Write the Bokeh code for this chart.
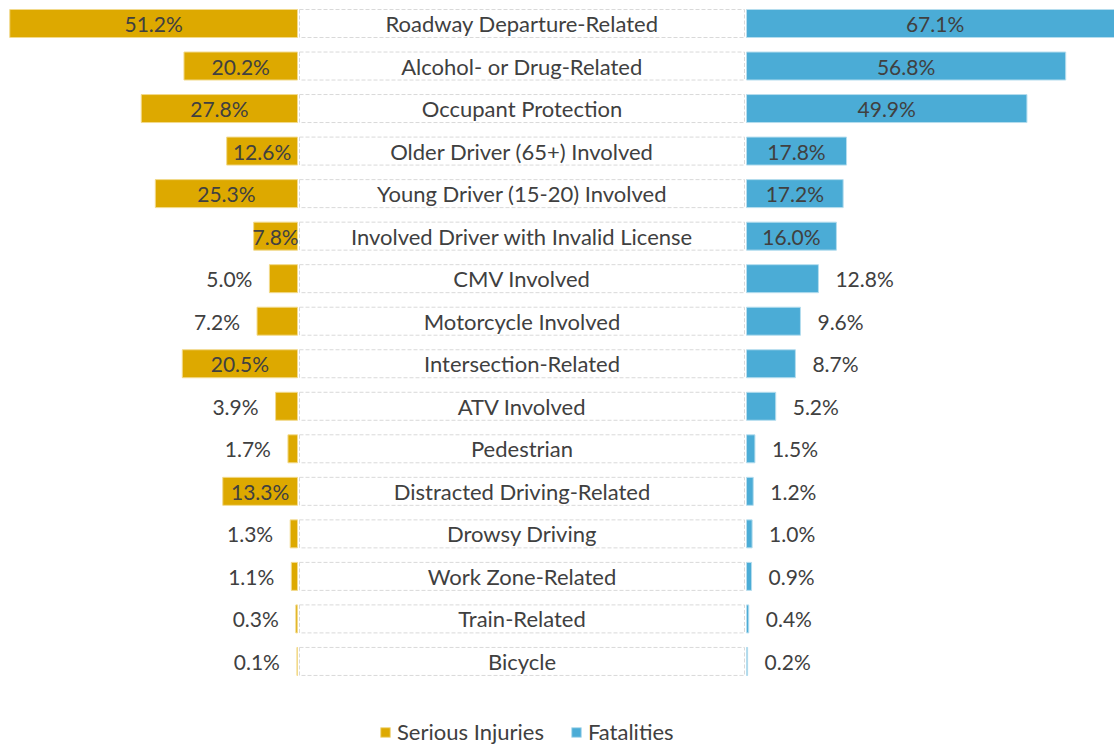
from bokeh.plotting import figure
from bokeh.models import ColumnDataSource, Range1d, Legend, LegendItem
from bokeh.core.properties import value
from bokeh.embed import file_html
from bokeh.resources import INLINE

categories = [
    "Roadway Departure-Related", "Alcohol- or Drug-Related", "Occupant Protection",
    "Older Driver (65+) Involved", "Young Driver (15-20) Involved",
    "Involved Driver with Invalid License", "CMV Involved", "Motorcycle Involved",
    "Intersection-Related", "ATV Involved", "Pedestrian", "Distracted Driving-Related",
    "Drowsy Driving", "Work Zone-Related", "Train-Related", "Bicycle",
]
serious_injuries = [51.2, 20.2, 27.8, 12.6, 25.3, 7.8, 5.0, 7.2, 20.5, 3.9, 1.7, 13.3, 1.3, 1.1, 0.3, 0.1]
fatalities = [67.1, 56.8, 49.9, 17.8, 17.2, 16.0, 12.8, 9.6, 8.7, 5.2, 1.5, 1.2, 1.0, 0.9, 0.4, 0.2]

GOLD = "#DDA900"
BLUE = "#4BACD6"
TXT = "#404040"
FONT = value("Lato")
FS_CAT = value("22px")
FS_NUM = value("21px")

W, H = 1114, 747
OX, OY = 0, 0                 # canvas origin in reference pixels
PX = 5.62                     # pixels per percent
X0 = -(297 - OX) / PX         # frame left in data units
X1 = X0 + W / PX
R0 = (746 - 297) / PX         # origin of fatalities bars
BOX_L, BOX_R = 2 / PX, (744 - 297) / PX
ROW = 42.53
Y1 = (23 - OY) / ROW
Y0 = Y1 - H / ROW
BH = 28 / ROW

n = len(categories)
ys = [-i for i in range(n)]

p = figure(width=W, height=H, output_backend="svg", toolbar_location=None,
           x_range=Range1d(X0, X1), y_range=Range1d(Y0, Y1),
           min_border=0, x_axis_location=None, y_axis_location=None)
p.outline_line_color = None
p.xgrid.visible = False
p.ygrid.visible = False
p.background_fill_color = "white"

src = ColumnDataSource(dict(
    y=ys, cat=categories,
    inj_left=[-v for v in serious_injuries], inj_right=[0] * n,
    fat_left=[R0] * n, fat_right=[R0 + v for v in fatalities],
    box_l=[BOX_L] * n, box_r=[BOX_R] * n,
))

p.hbar(y="y", left="box_l", right="box_r", height=BH, source=src,
       fill_color="white", line_color="#D9D9D9", line_dash="4 2", line_width=1)
r_inj = p.hbar(y="y", left="inj_left", right="inj_right", height=BH, source=src,
               fill_color=GOLD, line_color="#F2DA8C", line_width=1)
r_fat = p.hbar(y="y", left="fat_left", right="fat_right", height=BH, source=src,
               fill_color=BLUE, line_color="#B5DDEE", line_width=1)

p.text(x=(BOX_L + BOX_R) / 2, y="y", text="cat", source=src, text_font=FONT,
       text_font_size=FS_CAT, text_color=TXT, text_align="center", text_baseline="middle")

# serious injury labels
in_l = dict(x=[], y=[], t=[])
out_l = dict(x=[], y=[], t=[])
for v, y in zip(serious_injuries, ys):
    if v >= 7.5:
        in_l["x"].append(-v / 2); in_l["y"].append(y); in_l["t"].append(f"{v:.1f}%")
    else:
        out_l["x"].append(-v); out_l["y"].append(y); out_l["t"].append(f"{v:.1f}%")
p.text(x="x", y="y", text="t", source=ColumnDataSource(in_l), text_font=FONT,
       text_font_size=FS_NUM, text_color=TXT, text_align="center", text_baseline="middle")
p.text(x="x", y="y", text="t", source=ColumnDataSource(out_l), text_font=FONT,
       text_font_size=FS_NUM, text_color=TXT, text_align="right", text_baseline="middle",
       x_offset=-17)

in_r = dict(x=[], y=[], t=[])
out_r = dict(x=[], y=[], t=[])
for v, y in zip(fatalities, ys):
    if v >= 15:
        in_r["x"].append(R0 + v / 2); in_r["y"].append(y); in_r["t"].append(f"{v:.1f}%")
    else:
        out_r["x"].append(R0 + v); out_r["y"].append(y); out_r["t"].append(f"{v:.1f}%")
p.text(x="x", y="y", text="t", source=ColumnDataSource(in_r), text_font=FONT,
       text_font_size=FS_NUM, text_color=TXT, text_align="center", text_baseline="middle")
p.text(x="x", y="y", text="t", source=ColumnDataSource(out_r), text_font=FONT,
       text_font_size=FS_NUM, text_color=TXT, text_align="left", text_baseline="middle",
       x_offset=17)

legend = Legend(items=[LegendItem(label="Serious Injuries", renderers=[r_inj]),
                       LegendItem(label="Fatalities", renderers=[r_fat])],
                orientation="horizontal", location=(379 - OX, H - (745 - OY)),
                glyph_width=12, glyph_height=12, label_standoff=6, spacing=26,
                padding=0, margin=0, label_height=22,
                label_text_font="Lato", label_text_font_size="22px", label_text_color=TXT,
                background_fill_alpha=0, border_line_alpha=0)
p.add_layout(legend)

open("out.html", "w").write(file_html(p, INLINE))
